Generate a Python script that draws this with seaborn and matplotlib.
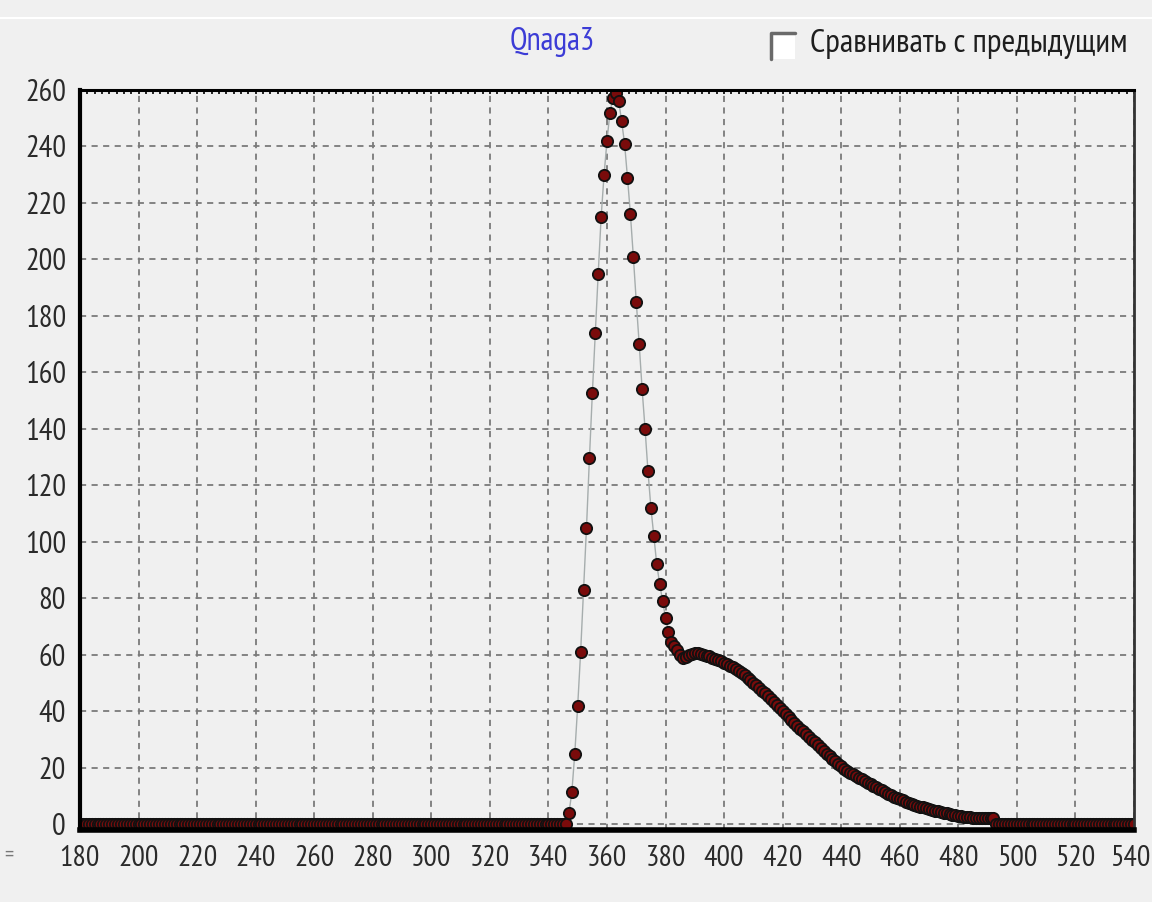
import numpy as np
import pandas as pd
import matplotlib
matplotlib.use("Agg")
import matplotlib.pyplot as plt
import matplotlib.transforms as mtransforms
from matplotlib import font_manager
from matplotlib.patches import Rectangle
from matplotlib.lines import Line2D
import seaborn as sns

# Wavelength grid (nm) and measured intensity
wavelength_start = 180
wavelength_end = 540
zero_left = [0.0] * (347 - 180)          # 180 .. 346 nm
peak_region = [                           # 347 .. 492 nm
    3.8, 11.4, 25, 42, 61, 83, 105, 129.5, 152.6, 174,
    195, 215, 230, 242, 252, 257, 259, 256, 249, 241,
    229, 216, 201, 185, 170, 154, 140, 125, 112, 102,
    92, 85, 79, 73, 68, 64.5, 63, 61.5, 60, 59,
    59.2, 59.8, 60.3, 60.5, 60.5, 60.2, 60, 59.7, 59.4, 59,
    58.6, 58.1, 57.6, 57.1, 56.6, 56.1, 55.5, 54.9, 54.2, 53.5,
    52.7, 51.9, 51, 50.1, 49.2, 48.3, 47.3, 46.3, 45.3, 44.3,
    43.2, 42.2, 41.2, 40.1, 39.1, 38, 37, 35.9, 34.8, 33.8,
    32.8, 31.8, 30.8, 29.8, 28.9, 27.9, 27, 26, 25, 24.1,
    23.2, 22.2, 21.3, 20.4, 19.6, 18.9, 18.2, 17.6, 17, 16.4,
    15.8, 15.2, 14.7, 14.2, 13.6, 13, 12.4, 11.9, 11.3, 10.7,
    10.2, 9.7, 9.3, 8.8, 8.4, 8, 7.6, 7.2, 6.9, 6.5,
    6.2, 5.9, 5.6, 5.3, 5, 4.7, 4.5, 4.2, 4, 3.8,
    3.5, 3.3, 3.1, 2.9, 2.8, 2.6, 2.5, 2.4, 2.3, 2.2,
    2.2, 2.1, 2.1, 2, 2, 2,
]
zero_right = [0.0] * (540 - 492)          # 493 .. 540 nm

x_ticks = list(range(180, 541, 20))
y_ticks = list(range(0, 261, 20))

series_title = "Qnaga3"
checkbox_label = "Сравнивать с предыдущим"

intensity = zero_left + peak_region + zero_right
wavelengths = np.arange(wavelength_start, wavelength_end + 1)
df = pd.DataFrame({"wavelength": wavelengths, "intensity": intensity})

bg = "#F0F0F0"
sns.set_style("white", {"axes.facecolor": bg, "figure.facecolor": bg})

# pick a condensed sans face with Cyrillic coverage
installed = {f.name for f in font_manager.fontManager.ttflist}
narrow_candidates = ["Liberation Sans Narrow", "Arial Narrow", "PT Sans Narrow",
                     "Roboto Condensed", "Fira Sans Condensed",
                     "IBM Plex Sans Condensed", "Open Sans Condensed",
                     "Archivo Narrow", "Encode Sans Condensed", "Liberation Sans"]
narrow = next((n for n in narrow_candidates if n in installed), "DejaVu Sans")
plt.rcParams["font.family"] = [narrow, "DejaVu Sans"]

fig = plt.figure(figsize=(11.52, 9.02), dpi=100)
fig.patch.set_facecolor(bg)
ax = fig.add_axes([0.0694, 0.0798, 0.9150, 0.8204])
ax.set_facecolor(bg)

# connecting line and markers
sns.lineplot(data=df, x="wavelength", y="intensity", ax=ax, color="#a6adad",
             linewidth=1.0, zorder=3, legend=False)
sns.scatterplot(data=df, x="wavelength", y="intensity", ax=ax, color="#7a0b0b",
                edgecolor="#111111", linewidth=1.3, s=66, zorder=4, legend=False)

ax.set_xlim(180, 540)
ax.set_ylim(-2.1, 260)
ax.set_xlabel("")
ax.set_ylabel("")

ax.set_xticks(x_ticks)
ax.set_xticks(list(range(180, 541, 5)), minor=True)
ax.set_yticks(y_ticks)
ax.set_xticklabels([str(v) for v in x_ticks])
ax.set_yticklabels([str(v) for v in y_ticks])

ax.grid(True, which="major", color="#7a7a7a", linewidth=1.3,
        linestyle=(0, (3.4, 3.0)), zorder=1)
ax.tick_params(axis="x", which="major", direction="out", length=7, width=1.2,
               color="#7a7a7a", labelsize=21.5, labelcolor="#2a2a2a", pad=4)
ax.tick_params(axis="x", which="minor", direction="out", length=4, width=1.0,
               color="#7a7a7a")
ax.tick_params(axis="y", which="major", direction="out", length=5, width=1.2,
               color="#7a7a7a", labelsize=22, labelcolor="#2a2a2a", pad=5)

# keep the last wavelength label inside the panel
last_label = ax.get_xticklabels()[-1]
last_label.set_transform(last_label.get_transform() +
                         mtransforms.ScaledTranslation(-4 / 100, 0, fig.dpi_scale_trans))

for side, lw, col in (("left", 3.0, "black"), ("bottom", 4.0, "black"),
                      ("top", 2.2, "black"), ("right", 2.0, "#333333")):
    ax.spines[side].set_visible(True)
    ax.spines[side].set_linewidth(lw)
    ax.spines[side].set_color(col)
    ax.spines[side].set_zorder(5)

# small inward ticks along the top border
top = ax.secondary_xaxis("top")
top.set_xticks(list(np.arange(180, 541, 2.5)))
top.tick_params(direction="in", length=3, width=1.2, color="black", labeltop=False)
top.spines["top"].set_visible(False)

# header: series name and checkbox
fig.text(552 / 1152, 0.953, series_title, color="#3c3cd6", fontsize=23,
         ha="center", va="center")
fig.add_artist(Rectangle((770 / 1152, 1 - 59 / 902), 25 / 1152, 27 / 902,
                         transform=fig.transFigure, facecolor="white",
                         edgecolor="none"))
fig.add_artist(Line2D([771 / 1152, 771 / 1152, 795 / 1152],
                      [1 - 59 / 902, 1 - 33 / 902, 1 - 33 / 902],
                      transform=fig.transFigure, color="#6a6a6a", linewidth=2.5))
fig.text(810 / 1152, 0.951, checkbox_label, color="#1e1e1e", fontsize=24,
         ha="left", va="center")

# thin light rule at the top of the panel
fig.add_artist(Line2D([0, 1], [1 - 18 / 902, 1 - 18 / 902],
                      transform=fig.transFigure, color="white", linewidth=1.5))
fig.text(0.004, 0.052, "=", color="#777777", fontsize=16, ha="left", va="center")

fig.savefig("out.png", dpi=100, facecolor=bg)
